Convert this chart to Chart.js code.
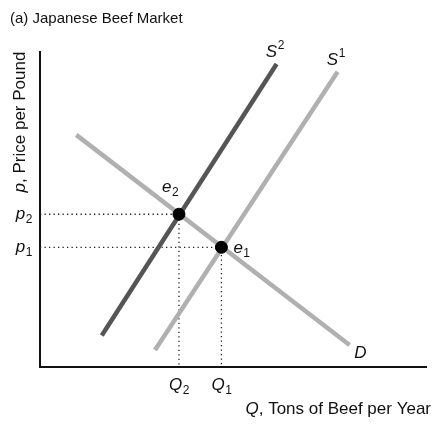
<!DOCTYPE html>
<html>
<head>
<meta charset="utf-8">
<script src="https://cdn.jsdelivr.net/npm/chart.js@4/dist/chart.umd.min.js"></script>
<style>
  html, body { margin: 0; padding: 0; background: #fff; }
  #wrap { width: 433px; height: 427px; position: relative; }
</style>
</head>
<body>
<div id="wrap"><canvas id="c"></canvas></div>
<script>
// curves (Q, p)
const supplyNew = [{x: 16, y: 10}, {x: 61.3, y: 96.2}];   // S2
const supplyOld = [{x: 29.8, y: 5.4}, {x: 77.1, y: 93.7}]; // S1
const demand = [{x: 9.4, y: 73.7}, {x: 80.2, y: 7}];       // D
const equilibria = [{x: 36, y: 48.5}, {x: 47, y: 38}];     // e2, e1
const eqNames = [['e', '2'], ['e', '1']];
const priceTicks = [['p', '2'], ['p', '1']];
const qtyTicks = [['Q', '2'], ['Q', '1']];

const FONT = 'Liberation Sans, Arial, sans-serif';

// dotted guide lines from the axes to each equilibrium
const guides = [];
equilibria.forEach(function (e) {
  guides.push({
    data: [{x: 0, y: e.y}, {x: e.x, y: e.y}, {x: e.x, y: 0}],
    borderColor: '#222', borderWidth: 1.3, borderDash: [1.3, 3.2],
    pointRadius: 0, showLine: true, fill: false, order: 5
  });
});

function drawSub(ctx, base, sub, x, y, align, sup) {
  ctx.font = 'italic 17px ' + FONT;
  const w1 = ctx.measureText(base).width;
  ctx.font = '12px ' + FONT;
  const w2 = ctx.measureText(sub).width;
  let x0 = x;
  if (align === 'right') x0 = x - w1 - w2;
  if (align === 'center') x0 = x - (w1 + w2) / 2;
  ctx.textAlign = 'left';
  ctx.textBaseline = 'alphabetic';
  ctx.font = 'italic 17px ' + FONT;
  ctx.fillText(base, x0, y);
  ctx.font = '12px ' + FONT;
  ctx.fillText(sub, x0 + w1 + 0.5, sup ? y - 8 : y + 4);
}

const textPlugin = {
  id: 'econText',
  afterDraw: function (chart) {
    const ctx = chart.ctx;
    const xs = chart.scales.x, ys = chart.scales.y;
    ctx.save();
    ctx.fillStyle = '#111';
    // title
    ctx.font = '15px ' + FONT;
    ctx.textAlign = 'left';
    ctx.textBaseline = 'alphabetic';
    ctx.fillText('(a) Japanese Beef Market', 10, 23);

    // curve labels
    drawSub(ctx, 'S', '2', xs.getPixelForValue(58.5), ys.getPixelForValue(98.4), 'left', true);
    drawSub(ctx, 'S', '1', xs.getPixelForValue(74.3), ys.getPixelForValue(95.9), 'left', true);
    ctx.font = 'italic 17px ' + FONT;
    ctx.fillText('D', xs.getPixelForValue(81.4), ys.getPixelForValue(2.9));

    // equilibrium labels
    drawSub(ctx, eqNames[0][0], eqNames[0][1], xs.getPixelForValue(equilibria[0].x) - 17, ys.getPixelForValue(equilibria[0].y) - 22, 'left', false);
    drawSub(ctx, eqNames[1][0], eqNames[1][1], xs.getPixelForValue(equilibria[1].x) + 12, ys.getPixelForValue(equilibria[1].y) + 6, 'left', false);

    // axis value labels
    equilibria.forEach(function (e, i) {
      drawSub(ctx, priceTicks[i][0], priceTicks[i][1], 32, ys.getPixelForValue(e.y) + 5, 'right', false);
      drawSub(ctx, qtyTicks[i][0], qtyTicks[i][1], xs.getPixelForValue(e.x), 390, 'center', false);
    });

    // x axis title
    ctx.font = '17px ' + FONT;
    const rest = ', Tons of Beef per Year';
    const wr = ctx.measureText(rest).width;
    ctx.textAlign = 'right';
    ctx.fillText(rest, 431, 414);
    ctx.font = 'italic 17px ' + FONT;
    ctx.fillText('Q', 431 - wr, 414);
    ctx.restore();

    // y axis title (rotated, reads bottom to top)
    ctx.save();
    ctx.fillStyle = '#111';
    ctx.translate(25, 122);
    ctx.rotate(-Math.PI / 2);
    ctx.font = '17px ' + FONT;
    const yr = ', Price per Pound';
    const wy = ctx.measureText(yr).width;
    ctx.font = 'italic 17px ' + FONT;
    const wp = ctx.measureText('p').width;
    const start = -(wy + wp) / 2;
    ctx.textAlign = 'left';
    ctx.textBaseline = 'alphabetic';
    ctx.fillText('p', start, 0);
    ctx.font = '17px ' + FONT;
    ctx.fillText(yr, start + wp, 0);
    ctx.restore();
  }
};

new Chart(document.getElementById('c').getContext('2d'), {
  type: 'scatter',
  data: {
    datasets: [
      {data: demand, borderColor: '#b0b0b0', borderWidth: 4.5, showLine: true, pointRadius: 0, order: 3},
      {data: supplyOld, borderColor: '#b0b0b0', borderWidth: 4.5, showLine: true, pointRadius: 0, order: 3},
      {data: supplyNew, borderColor: '#555555', borderWidth: 4.5, showLine: true, pointRadius: 0, order: 2}
    ].concat(guides).concat([
      {data: equilibria, pointRadius: 6, pointBackgroundColor: '#000', pointBorderColor: '#000', showLine: false, order: 0}
    ])
  },
  options: {
    responsive: true,
    maintainAspectRatio: false,
    animation: false,
    layout: {padding: {left: 40, top: 52, right: 0, bottom: 60}},
    plugins: {legend: {display: false}, tooltip: {enabled: false}},
    scales: {
      x: {
        type: 'linear', min: 0, max: 100,
        grid: {display: false, drawTicks: false}, ticks: {display: false},
        border: {display: true, color: '#111', width: 2}
      },
      y: {
        type: 'linear', min: 0, max: 100,
        grid: {display: false, drawTicks: false}, ticks: {display: false},
        border: {display: true, color: '#111', width: 2}
      }
    }
  },
  plugins: [textPlugin]
});
</script>
</body>
</html>
